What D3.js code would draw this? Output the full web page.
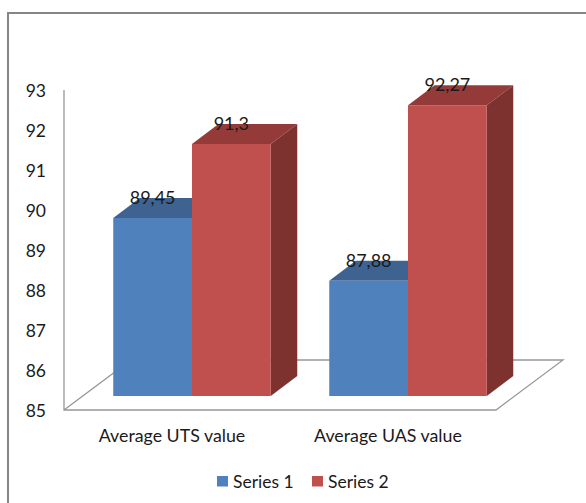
<!DOCTYPE html>
<html>
<head>
<meta charset="utf-8">
<script src="https://cdn.jsdelivr.net/npm/d3@7"></script>
<style>
  html, body { margin: 0; padding: 0; background: #fff; }
  svg { display: block; }
  text { font-family: Lato, "Open Sans", sans-serif; fill: #1a1a1a; }
</style>
</head>
<body>
<div id="chart"></div>
<script>
const categories = ['Average UTS value', 'Average UAS value']
const seriesNames = ['Series 1', 'Series 2']
const series1 = [89.45, 87.88]
const series2 = [91.3, 92.27]
const valueLabels = [['89,45', '87,88'], ['91,3', '92,27']]
const yTicks = [85, 86, 87, 88, 89, 90, 91, 92, 93]

const width = 586
const height = 503

const colors = [
  { front: '#4f81bd', top: '#3e6390', side: '#2f4d71' },
  { front: '#c0504d', top: '#943b39', side: '#7d3230' }
]

const svg = d3
  .select('#chart')
  .append('svg')
  .attr('width', width)
  .attr('height', height)

// outer border, only left and top are inside the crop
svg
  .append('path')
  .attr('d', 'M8,503V13H586')
  .attr('fill', 'none')
  .attr('stroke', '#868686')
  .attr('stroke-width', 2)

const yScale = d3.scaleLinear().domain([85, 93]).range([410, 90])
const xScale = d3.scaleBand().domain(categories).range([64, 496])
const barScale = d3
  .scaleBand()
  .domain([0, 1])
  .range([0, 157.5])

// 3d offsets
const floorDepth = { x: 67, y: -50 }
const barShift = { x: 20, y: -14 }
const barDepth = { x: 26.5, y: -20 }

// floor + wall line
const y0 = yScale(85)
const x0 = xScale.range()[0]
const x1 = xScale.range()[1]

svg
  .append('path')
  .attr(
    'd',
    `M${x0},${yScale(93)}V${y0}H${x1}L${x1 + floorDepth.x},${y0 + floorDepth.y}H${x0 + floorDepth.x}L${x0},${y0}`
  )
  .attr('fill', 'none')
  .attr('stroke', '#989898')
  .attr('stroke-width', 1.3)

// y tick labels
svg
  .selectAll('.y-tick')
  .data(yTicks)
  .enter()
  .append('text')
  .attr('class', 'y-tick')
  .attr('x', 46)
  .attr('y', d => yScale(d) + 6.5)
  .attr('text-anchor', 'end')
  .attr('font-size', 17.5)
  .text(d => d)

// x labels
svg
  .selectAll('.x-label')
  .data(categories)
  .enter()
  .append('text')
  .attr('class', 'x-label')
  .attr('x', d => xScale(d) + xScale.bandwidth() / 2)
  .attr('y', 441.5)
  .attr('text-anchor', 'middle')
  .attr('font-size', 17.8)
  .text(d => d)

const bars = []
categories.forEach((c, i) => {
  bars.push({ cat: c, s: 0, value: series1[i], label: valueLabels[0][i] })
  bars.push({ cat: c, s: 1, value: series2[i], label: valueLabels[1][i] })
})

function barLeft(d) {
  const center = xScale(d.cat) + xScale.bandwidth() / 2 + barShift.x
  return center - 78.75 + barScale(d.s)
}

const barG = svg
  .selectAll('.bar')
  .data(bars)
  .enter()
  .append('g')
  .attr('class', 'bar')

barG
  .append('path')
  .attr('fill', d => colors[d.s].top)
  .attr('d', d => {
    const l = barLeft(d)
    const r = l + barScale.bandwidth()
    const t = yScale(d.value) + barShift.y
    return `M${l},${t}L${l + barDepth.x},${t + barDepth.y}H${r + barDepth.x}L${r},${t}Z`
  })

barG
  .append('path')
  .attr('fill', d => colors[d.s].side)
  .attr('d', d => {
    const r = barLeft(d) + barScale.bandwidth()
    const t = yScale(d.value) + barShift.y
    const b = y0 + barShift.y
    return `M${r},${t}L${r + barDepth.x},${t + barDepth.y}V${b + barDepth.y}L${r},${b}Z`
  })

barG
  .append('rect')
  .attr('fill', d => colors[d.s].front)
  .attr('x', barLeft)
  .attr('y', d => yScale(d.value) + barShift.y)
  .attr('width', barScale.bandwidth())
  .attr('height', d => y0 - yScale(d.value))

// labels go last so bars never cover them
svg
  .selectAll('.value-label')
  .data(bars)
  .enter()
  .append('text')
  .attr('class', 'value-label')
  .attr('x', d => barLeft(d) + barScale.bandwidth() / 2)
  .attr('y', d => yScale(d.value) + barShift.y - 14)
  .attr('text-anchor', 'middle')
  .attr('font-size', 18)
  .attr('fill', '#111')
  .text(d => d.label)

// legend
const legend = svg
  .selectAll('.legend')
  .data(seriesNames)
  .enter()
  .append('g')
  .attr('class', 'legend')
  .attr('transform', (_, i) => `translate(${217 + i * 95},476)`)

legend
  .append('rect')
  .attr('width', 11)
  .attr('height', 10.5)
  .attr('fill', (_, i) => colors[i].front)

legend
  .append('text')
  .attr('x', 16)
  .attr('y', 11.5)
  .attr('font-size', 17.5)
  .text(d => d)
</script>
</body>
</html>
